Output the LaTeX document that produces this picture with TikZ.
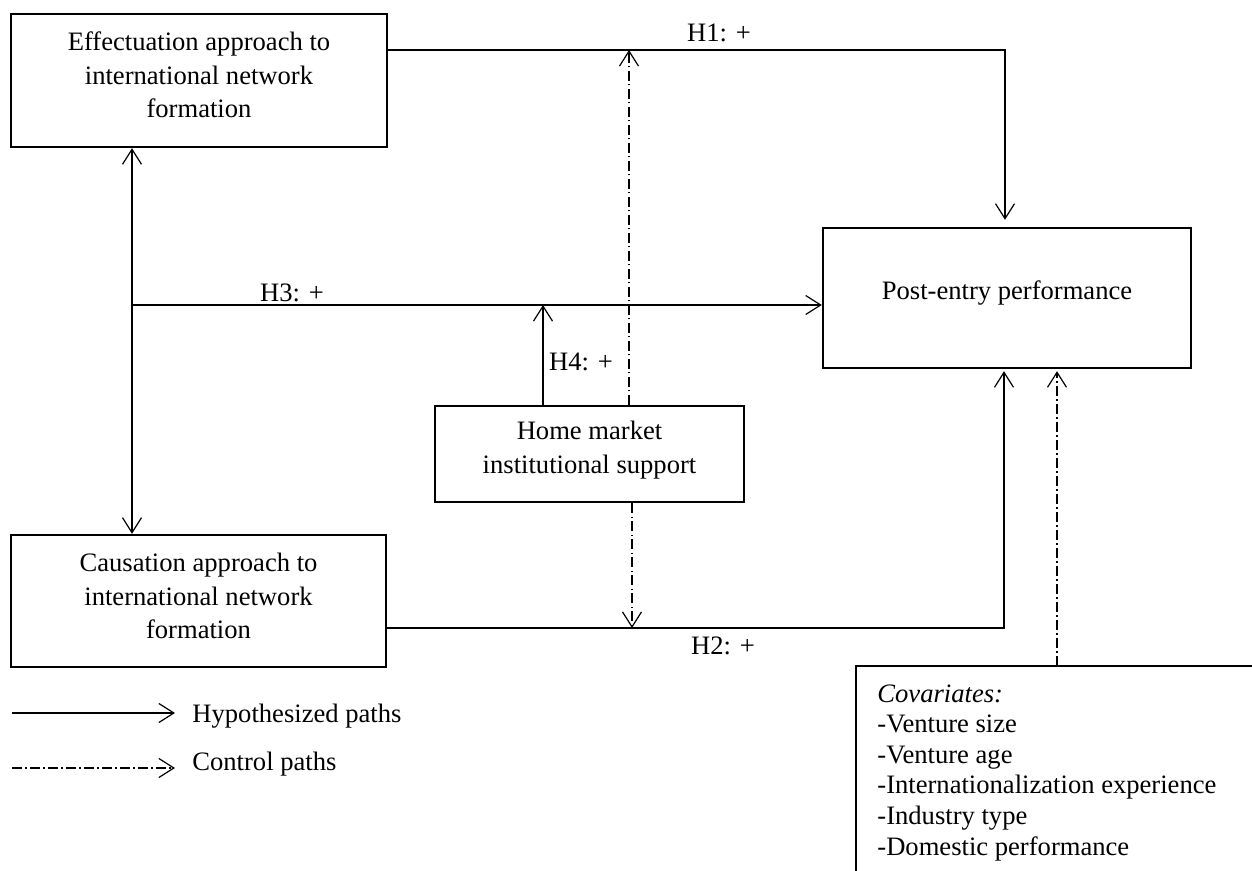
\documentclass[tikz,border=0pt]{standalone}
\usepackage{fontspec}
\setmainfont{Liberation Serif}
\usetikzlibrary{arrows.meta}
\begin{document}
\begin{tikzpicture}[x=0.5pt,y=-0.5pt,
  box/.style={draw, line width=1.2pt, inner sep=0pt},
  txt/.style={align=center, font=\fontsize{13.3pt}{16.7pt}\selectfont, inner sep=0pt},
  lab/.style={font=\fontsize{13.3pt}{16pt}\selectfont, inner sep=0pt},
  hyp/.style={line width=0.6pt, -{Straight Barb[length=7.5pt,width=9.5pt,line width=0.6pt]}},
  ctl/.style={hyp, dash pattern=on 5pt off 1.7pt on 0.6pt off 1.7pt},
]
\useasboundingbox (0,0) rectangle (1252,871);

% boxes
\node[box, minimum width=188pt, minimum height=66.5pt] (eff) at (199,80.5) {};
\node[txt] (efft) at (199,75) {Effectuation approach to\\international network\\formation};

\node[box, minimum width=184pt, minimum height=70pt] (pe) at (1007,298) {};
\node[txt] (pet) at (1007,293) {Post-entry performance};

\node[box, minimum width=154.5pt, minimum height=48pt] (home) at (589.5,454) {};
\node[txt] (homet) at (589.5,450) {Home market\\institutional support};

\node[box, minimum width=187.5pt, minimum height=66pt] (cau) at (198.5,601) {};
\node[txt] (caut) at (198.5,596) {Causation approach to\\international network\\formation};

% covariates (open box)
\coordinate (covtl) at (856,666);
\coordinate (covtr) at (1252,666);
\coordinate (covbl) at (856,871);
\draw[line width=1.2pt] (covbl) -- (covtl) -- (covtr);
\node[lab, anchor=base west] (cv0) at (877,702) {\itshape Covariates:};
\node[lab, anchor=base west] (cv1) at (877,732.6) {-Venture size};
\node[lab, anchor=base west] (cv2) at (877,763.2) {-Venture age};
\node[lab, anchor=base west] (cv3) at (877,793.8) {-Internationalization experience};
\node[lab, anchor=base west] (cv4) at (877,824.4) {-Industry type};
\node[lab, anchor=base west] (cv5) at (877,855) {-Domestic performance};

% connector coordinates
\coordinate (h1c) at (1005,50);
\coordinate (h2c) at (1004,628);
\coordinate (dv) at (132,305);
\coordinate (h4c) at (543,305);
\coordinate (m1) at (629,50);
\coordinate (m2) at (632,628);
\coordinate (covc) at (1057,666);

% H1
\draw[hyp, shorten >=3.5pt] (eff.east |- h1c) -- (h1c) -- (h1c |- pe.north);
% H2
\draw[hyp, shorten >=1pt] (cau.east |- h2c) -- (h2c) -- (h2c |- pe.south);
% double arrow
\draw[line width=0.6pt, {Straight Barb[length=7.5pt,width=9.5pt,line width=0.6pt]}-{Straight Barb[length=7.5pt,width=9.5pt,line width=0.6pt]}] (eff.south -| dv) -- (cau.north -| dv);
% H3
\draw[hyp] (dv) -- (pe.west |- dv);
% H4
\draw[hyp] (home.north -| h4c) -- (h4c);
% moderation control paths
\draw[ctl] (home.north -| m1) -- (m1);
\draw[ctl] (home.south -| m2) -- (m2);
% covariates control path
\draw[ctl, shorten >=1pt] (covc) -- (covc |- pe.south);

% labels
\node[lab] (h1) at (719,33) {H1: +};
\node[lab] (h2) at (723,646) {H2: +};
\node[lab] (h3) at (292,293) {H3: +};
\node[lab] (h4) at (581,362) {H4: +};

% legend
\coordinate (lg1) at (12,713);
\coordinate (lg2) at (12,768);
\node[lab, anchor=base west, inner xsep=8.5pt] (hypt) at (175,722) {Hypothesized paths};
\node[lab, anchor=base west, inner xsep=8.5pt] (ctlt) at (175,770) {Control paths};
\draw[hyp] (lg1) -- (hypt.west |- lg1);
\draw[ctl] (lg2) -- (ctlt.west |- lg2);
\end{tikzpicture}
\end{document}
